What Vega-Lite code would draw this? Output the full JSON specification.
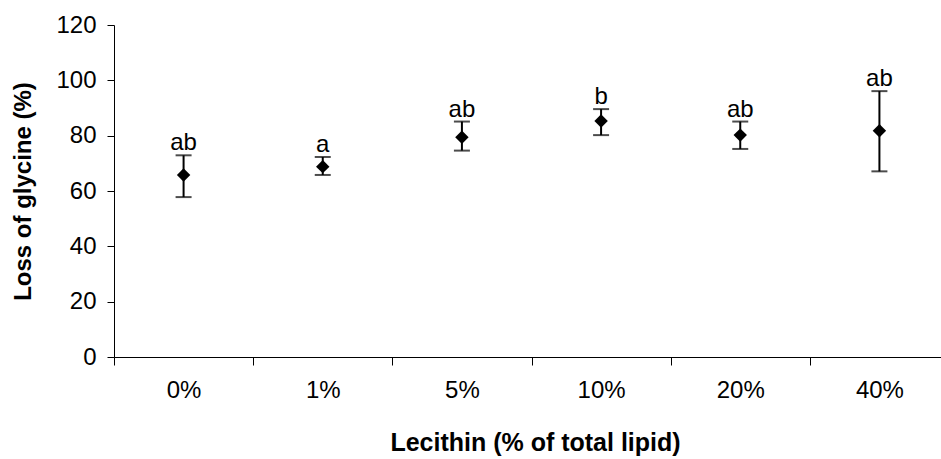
{
  "$schema": "https://vega.github.io/schema/vega-lite/v6.json",
  "width": 826,
  "height": 332,
  "autosize": {"type": "none"},
  "padding": {"left": 114, "top": 25, "right": 1, "bottom": 102},
  "background": "white",
  "config": {"view": {"stroke": null}, "font": "Liberation Sans"},
  "data": {
    "values": [
      {"lecithin": "0%", "mean": 65.8, "lo": 57.8, "hi": 72.9, "group": "ab"},
      {"lecithin": "1%", "mean": 68.8, "lo": 65.8, "hi": 72.3, "group": "a"},
      {"lecithin": "5%", "mean": 79.4, "lo": 74.6, "hi": 85.1, "group": "ab"},
      {"lecithin": "10%", "mean": 85.3, "lo": 80.2, "hi": 89.6, "group": "b"},
      {"lecithin": "20%", "mean": 80.2, "lo": 75.2, "hi": 85.1, "group": "ab"},
      {"lecithin": "40%", "mean": 81.8, "lo": 67.1, "hi": 96.1, "group": "ab"}
    ]
  },
  "encoding": {
    "x": {
      "field": "lecithin",
      "type": "nominal",
      "sort": null,
      "scale": {"range": [0, 835], "paddingInner": 0, "paddingOuter": 0},
      "axis": {
        "title": "Lecithin (% of total lipid)",
        "titleFontSize": 25,
        "titleFontWeight": "bold",
        "titleColor": "black",
        "titleX": 421,
        "titleY": 85,
        "titleBaseline": "middle",
        "labelAngle": 0,
        "labelFontSize": 24,
        "labelColor": "black",
        "labelPadding": 13,
        "tickBand": "extent",
        "tickSize": 8,
        "tickColor": "black",
        "domainColor": "black",
        "grid": false
      }
    }
  },
  "layer": [
    {
      "mark": {"type": "rule", "color": "black", "strokeWidth": 2},
      "encoding": {
        "y": {
          "field": "lo",
          "type": "quantitative",
          "scale": {"domain": [0, 120], "nice": false},
          "axis": {
            "title": "Loss of glycine (%)",
            "titleFontSize": 24,
            "titleFontWeight": "bold",
            "titleColor": "black",
            "titleX": -91,
            "titleY": 166,
            "titleBaseline": "middle",
            "titleAlign": "center",
            "values": [0, 20, 40, 60, 80, 100, 120],
            "labelFontSize": 24,
            "labelColor": "black",
            "labelPadding": 11,
            "tickSize": 7,
            "tickColor": "black",
            "domainColor": "black",
            "grid": false
          }
        },
        "y2": {"field": "hi"}
      }
    },
    {
      "mark": {"type": "tick", "color": "black", "thickness": 2, "size": 16},
      "encoding": {"y": {"field": "hi", "type": "quantitative"}}
    },
    {
      "mark": {"type": "tick", "color": "black", "thickness": 2, "size": 16},
      "encoding": {"y": {"field": "lo", "type": "quantitative"}}
    },
    {
      "mark": {"type": "point", "shape": "diamond", "filled": true, "color": "black", "opacity": 1, "size": 180},
      "encoding": {"y": {"field": "mean", "type": "quantitative"}}
    },
    {
      "mark": {"type": "text", "fontSize": 24, "color": "black", "baseline": "alphabetic", "dy": -5},
      "encoding": {
        "y": {"field": "hi", "type": "quantitative"},
        "text": {"field": "group"}
      }
    }
  ]
}
